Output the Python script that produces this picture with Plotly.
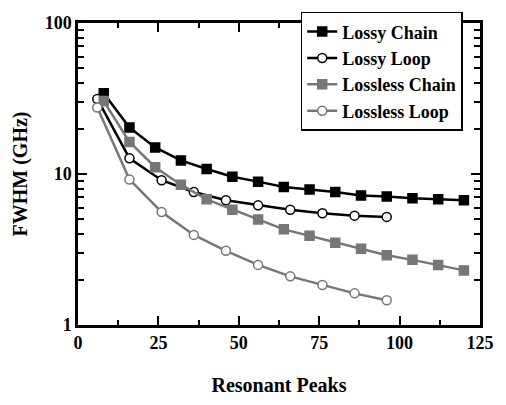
import plotly.graph_objects as go

# Resonant peak counts for each structure
chain_peaks = [8, 16, 24, 32, 40, 48, 56, 64, 72, 80, 88, 96, 104, 112, 120]
loop_peaks = [6, 16, 26, 36, 46, 56, 66, 76, 86, 96]

# FWHM values (GHz)
lossy_chain = [34.2, 20.3, 15.0, 12.3, 10.8, 9.6, 8.9, 8.2, 7.9, 7.6, 7.2, 7.1, 6.9, 6.8, 6.7]
lossy_loop = [31.4, 12.7, 9.1, 7.6, 6.7, 6.2, 5.8, 5.5, 5.3, 5.2]
lossless_chain = [30.4, 16.3, 11.1, 8.5, 6.8, 5.8, 5.0, 4.3, 3.9, 3.5, 3.2, 2.9, 2.7, 2.5, 2.3]
lossless_loop = [27.6, 9.2, 5.6, 3.95, 3.1, 2.5, 2.1, 1.84, 1.62, 1.46]

SERIF = "Liberation Serif"
BLACK = "#000000"
GRAY = "#777777"

series = [
    ("Lossy Chain", chain_peaks, lossy_chain, BLACK, "square", BLACK),
    ("Lossy Loop", loop_peaks, lossy_loop, BLACK, "circle", "white"),
    ("Lossless Chain", chain_peaks, lossless_chain, GRAY, "square", GRAY),
    ("Lossless Loop", loop_peaks, lossless_loop, GRAY, "circle", "white"),
]

fig = go.Figure()
for name, xs, ys, color, symbol, fill in series:
    fig.add_trace(go.Scatter(
        x=xs, y=ys, name=name, mode="lines+markers",
        line=dict(color=color, width=2.5),
        marker=dict(symbol=symbol, size=9, color=fill,
                    line=dict(color=color, width=1.5)),
    ))

axis_common = dict(
    showline=True, linecolor="black", linewidth=2.5, mirror="ticks",
    ticks="inside", tickcolor="black", tickwidth=2, ticklen=9,
    showgrid=False, zeroline=False,
    tickfont=dict(family=SERIF, size=18, color="black", weight="bold"),
)

fig.update_xaxes(
    range=[0, 125], tickmode="array", tickvals=[0, 25, 50, 75, 100, 125],
    minor=dict(ticks="inside", dtick=12.5, tick0=0, ticklen=5, tickwidth=2,
               tickcolor="black"),
    title=dict(text="Resonant Peaks", standoff=26,
               font=dict(family=SERIF, size=20, color="black", weight="bold")),
    **axis_common,
)

fig.update_yaxes(
    type="log", range=[0, 2], tickmode="array", tickvals=[1, 10, 100],
    ticktext=["1", "10", "100"],
    minor=dict(ticks="inside",
               tickvals=[2, 3, 4, 5, 6, 7, 8, 9, 20, 30, 40, 50, 60, 70, 80, 90],
               ticklen=6, tickwidth=2, tickcolor="black"),
    title=dict(text="FWHM (GHz)", standoff=12,
               font=dict(family=SERIF, size=20, color="black", weight="bold")),
    **axis_common,
)

fig.update_layout(
    width=506, height=405,
    margin=dict(l=78, r=26, t=17, b=67),
    paper_bgcolor="white", plot_bgcolor="white",
    showlegend=True,
    legend=dict(
        x=0.554, y=1.037, xanchor="left", yanchor="top",
        bgcolor="white", bordercolor="black", borderwidth=1.5,
        font=dict(family=SERIF, size=18, color="black", weight="bold"),
        tracegroupgap=0, itemwidth=30,
    ),
)

fig.write_html("out.html")
